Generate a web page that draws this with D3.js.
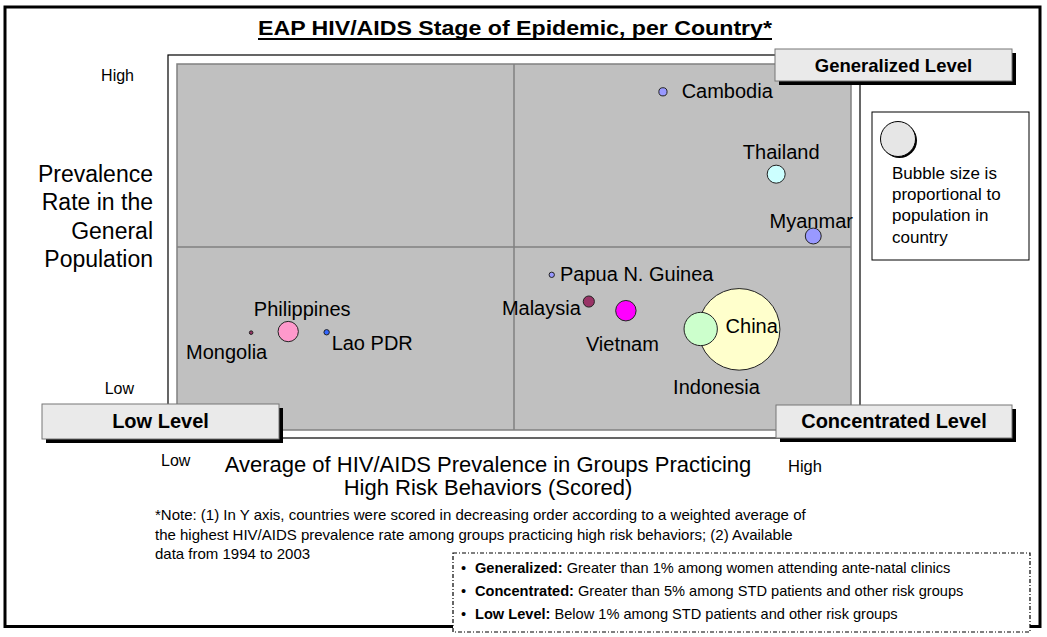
<!DOCTYPE html>
<html>
<head>
<meta charset="utf-8">
<script src="https://d3js.org/d3.v7.min.js"></script>
<style>
  body { margin: 0; background: #fff; }
  svg { display: block; font-family: "Liberation Sans", Arial, sans-serif; }
</style>
</head>
<body>
<svg id="chart" width="1047" height="637"></svg>
<script>
// data
const countries = ["China", "Indonesia", "Cambodia", "Thailand", "Myanmar", "Papua N. Guinea",
                   "Malaysia", "Vietnam", "Philippines", "Mongolia", "Lao PDR"];
const riskScore = [8.34, 7.77, 7.21, 8.89, 9.44, 5.56, 6.11, 6.66, 1.65, 1.10, 2.22];
const generalScore = [2.75, 2.76, 9.24, 6.99, 5.30, 4.24, 3.51, 3.26, 2.69, 2.66, 2.67];
const population = [1290, 215, 13, 63, 49, 5.5, 24, 81, 80, 2.5, 5.6];
const xTickLabels = ["Low", "High"];
const yTickLabels = ["Low", "High"];
const levels = ["Generalized Level", "Concentrated Level", "Low Level"];
const yTitle = ["Prevalence", "Rate in the", "General", "Population"];
const xTitle = ["Average of HIV/AIDS Prevalence in Groups Practicing", "High Risk Behaviors (Scored)"];
const notes = [
  "*Note: (1) In Y axis, countries were scored in decreasing order according to a weighted average of",
  "the highest HIV/AIDS prevalence rate among groups practicing high risk behaviors; (2) Available",
  "data from 1994 to 2003"
];
const definitions = [
  ["Generalized:", " Greater than 1% among women attending ante-natal clinics"],
  ["Concentrated:", " Greater than 5% among STD patients and other risk groups"],
  ["Low Level:", " Below 1% among STD patients and other risk groups"]
];
const legendText = ["Bubble size is", "proportional to", "population in", "country"];

// styles
const colors = ["#ffffcc", "#ccffcc", "#9999ff", "#ccffff", "#9999ff", "#9999ff",
                "#993366", "#ff00ff", "#ff99cc", "#993366", "#3366ff"];
const labelPos = {
  "China": [12.6, 3.4, "middle"], "Indonesia": [15.8, 65, "middle"],
  "Cambodia": [18.7, 6.5, "start"], "Thailand": [5, -15, "middle"],
  "Myanmar": [-2, -8, "middle"], "Papua N. Guinea": [8.3, 6, "start"],
  "Malaysia": [-8, 13.3, "end"], "Vietnam": [-3.5, 40, "middle"],
  "Philippines": [14, -15.7, "middle"], "Mongolia": [-24.5, 26.3, "middle"],
  "Lao PDR": [5, 17.7, "start"]
};

const svg = d3.select("#chart");

const x = d3.scaleLinear().domain([0, 10]).range([177, 851]);
const y = d3.scaleLinear().domain([0, 10]).range([430, 64]);
const r = d3.scaleSqrt().domain([0, 1290]).range([0, 40.8]);

// outer frame
svg.append("rect").attr("x", 5).attr("y", 7).attr("width", 1035).attr("height", 619.5)
  .attr("fill", "#fff").attr("stroke", "#000").attr("stroke-width", 3);

// title
svg.append("text").attr("x", 515).attr("y", 35).attr("text-anchor", "middle")
  .attr("font-size", 21).attr("font-weight", "bold")
  .attr("textLength", 514).attr("lengthAdjust", "spacingAndGlyphs")
  .text("EAP HIV/AIDS Stage of Epidemic, per Country*");
svg.append("line").attr("x1", 258).attr("x2", 772).attr("y1", 39).attr("y2", 39)
  .attr("stroke", "#000").attr("stroke-width", 2);

// plot frame and area
svg.append("rect").attr("x", 168).attr("y", 55).attr("width", 692).attr("height", 383)
  .attr("fill", "#fff").attr("stroke", "#000").attr("stroke-width", 1.2);
svg.append("rect").attr("x", x(0)).attr("y", y(10))
  .attr("width", x(10) - x(0)).attr("height", y(0) - y(10))
  .attr("fill", "#c0c0c0").attr("stroke", "#808080").attr("stroke-width", 1.5);
svg.append("line").attr("x1", x(5)).attr("x2", x(5)).attr("y1", y(0)).attr("y2", y(10))
  .attr("stroke", "#808080").attr("stroke-width", 1.5);
svg.append("line").attr("x1", x(0)).attr("x2", x(10)).attr("y1", y(5)).attr("y2", y(5))
  .attr("stroke", "#808080").attr("stroke-width", 1.5);

// bubbles
const idx = d3.range(countries.length);
svg.append("g").selectAll("circle").data(idx).join("circle")
  .attr("cx", i => x(riskScore[i]))
  .attr("cy", i => y(generalScore[i]))
  .attr("r", i => r(population[i]))
  .attr("fill", i => colors[i])
  .attr("stroke", "#222").attr("stroke-width", 1);

svg.append("g").attr("font-size", 20).selectAll("text").data(idx).join("text")
  .attr("x", i => x(riskScore[i]) + labelPos[countries[i]][0])
  .attr("y", i => y(generalScore[i]) + labelPos[countries[i]][1])
  .attr("text-anchor", i => labelPos[countries[i]][2])
  .text(i => countries[i]);

// level boxes
const boxes = [
  {x: 775, y: 49, w: 237, h: 32, fs: 18.5, base: 72},
  {x: 776, y: 405, w: 236, h: 33, fs: 20, base: 428},
  {x: 42, y: 404, w: 237, h: 35, fs: 20, base: 428}
];
boxes.forEach((b, i) => {
  svg.append("rect").attr("x", b.x + 4).attr("y", b.y + 4).attr("width", b.w).attr("height", b.h)
    .attr("fill", "#000");
  svg.append("rect").attr("x", b.x).attr("y", b.y).attr("width", b.w).attr("height", b.h)
    .attr("fill", "#eaeaea").attr("stroke", "#777").attr("stroke-width", 1);
  svg.append("text").attr("x", b.x + b.w / 2).attr("y", b.base).attr("text-anchor", "middle")
    .attr("font-size", b.fs).attr("font-weight", "bold").text(levels[i]);
});

// axis end labels
svg.append("text").attr("x", 134).attr("y", 81).attr("text-anchor", "end")
  .attr("font-size", 16).text(yTickLabels[1]);
svg.append("text").attr("x", 134).attr("y", 394).attr("text-anchor", "end")
  .attr("font-size", 16).text(yTickLabels[0]);
svg.append("text").attr("x", 161).attr("y", 466).attr("font-size", 16).text(xTickLabels[0]);
svg.append("text").attr("x", 788).attr("y", 472).attr("font-size", 16.5).text(xTickLabels[1]);

// axis titles
svg.append("g").attr("font-size", 23).attr("text-anchor", "end")
  .selectAll("text").data(yTitle).join("text")
  .attr("x", 153).attr("y", (d, i) => 181.7 + i * 28.4).text(d => d);
svg.append("g").attr("font-size", 22).attr("text-anchor", "middle")
  .selectAll("text").data(xTitle).join("text")
  .attr("x", 488).attr("y", (d, i) => 472 + i * 23).text(d => d);

// note
svg.append("g").attr("font-size", 15)
  .selectAll("text").data(notes).join("text")
  .attr("x", 155).attr("y", (d, i) => 520 + i * 19.5).text(d => d);

// bubble size legend
svg.append("rect").attr("x", 872).attr("y", 112).attr("width", 157).attr("height", 148)
  .attr("fill", "#fff").attr("stroke", "#000").attr("stroke-width", 1);
svg.append("circle").attr("cx", 899.5).attr("cy", 140.5).attr("r", 17.5).attr("fill", "#000");
svg.append("circle").attr("cx", 898).attr("cy", 139).attr("r", 17.5)
  .attr("fill", "#e6e6e6").attr("stroke", "#000").attr("stroke-width", 1);
svg.append("g").attr("font-size", 17)
  .selectAll("text").data(legendText).join("text")
  .attr("x", 892).attr("y", (d, i) => 179 + i * 21.2).text(d => d);

// definitions box
svg.append("rect").attr("x", 453).attr("y", 553).attr("width", 577).attr("height", 79)
  .attr("fill", "#fff").attr("stroke", "#000").attr("stroke-width", 1.2)
  .attr("stroke-dasharray", "4,2,1,2");
const defs = svg.append("g").attr("font-size", 14.6);
definitions.forEach((d, i) => {
  const yy = 573 + i * 23;
  defs.append("text").attr("x", 461).attr("y", yy).text("\u2022");
  const t = defs.append("text").attr("x", 475).attr("y", yy);
  t.append("tspan").attr("font-weight", "bold").text(d[0]);
  t.append("tspan").text(d[1]);
});
</script>
</body>
</html>
